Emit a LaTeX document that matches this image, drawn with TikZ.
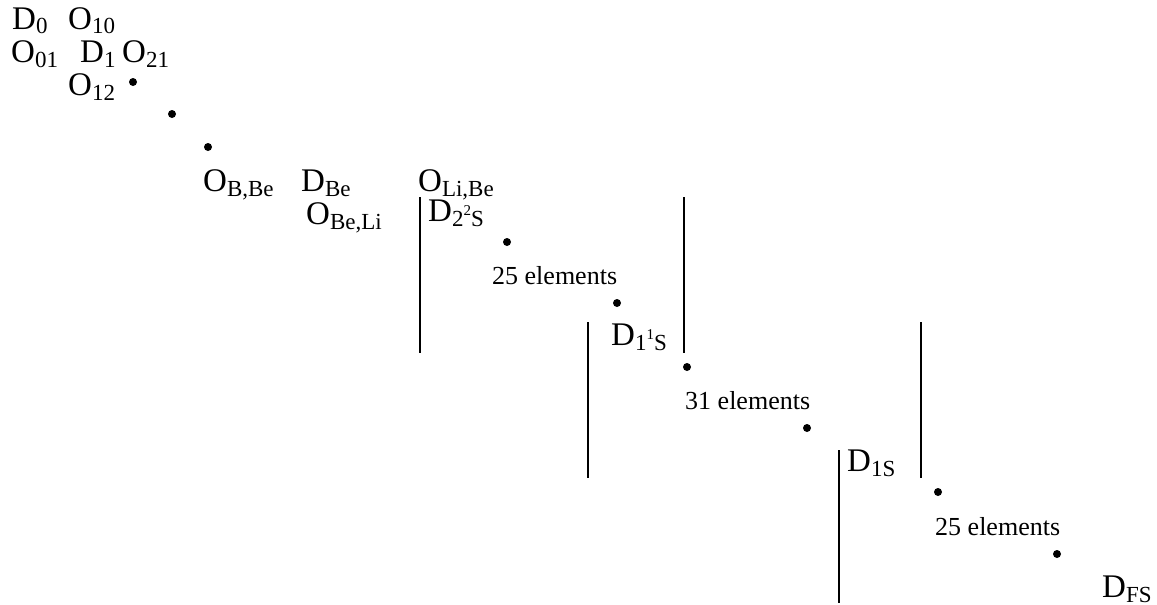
\documentclass[tikz,border=0pt]{standalone}
\usepackage{fontspec}
\setmainfont{Liberation Serif}
\newcommand\lo[1]{\raisebox{-5pt}{\fontsize{23}{23}\selectfont #1}}
\newcommand\hiup[1]{\raisebox{11pt}{\fontsize{15}{15}\selectfont #1}}
\tikzset{
  lbl/.style={inner sep=0pt, anchor=base west, font=\fontsize{33}{33}\selectfont},
  cnt/.style={inner sep=0pt, anchor=base west, font=\fontsize{26}{26}\selectfont},
  bar/.style={line width=2.4pt},
  pt/.style={circle, fill=black, inner sep=0pt, minimum size=8pt}
}
\begin{document}
\begin{tikzpicture}[x=1pt, y=-1pt]
\useasboundingbox (0,0) rectangle (1157,605);
% top-left block
\node[lbl] (d0) at (12,29) {D\lo{0}};
\node[lbl] (o10) at (68,29) {O\lo{10}};
\node[lbl] (o01) at (11,62) {O\lo{01}};
\node[lbl] (d1) at (80,62) {D\lo{1}};
\node[lbl] (o21) at (122,62) {O\lo{21}};
\node[lbl] (o12) at (68,95) {O\lo{12}};
\node[pt] (p1) at (133,82) {};
\node[pt] (p2) at (172,114) {};
\node[pt] (p3) at (208,147) {};
% middle row
\node[lbl] (obbe) at (203,191) {O\lo{B,Be}};
\node[lbl] (dbe) at (301,191) {D\lo{Be}};
\node[lbl] (olibe) at (418,191) {O\lo{Li,Be}};
\node[lbl] (obeli) at (306,224) {O\lo{Be,Li}};
% block 1
\node[lbl] (d22s) at (428,221) {D\lo{2\hiup{2}S}};
\node[pt] (p4) at (507,242) {};
\node[cnt] (e25a) at (492,284) {25 elements};
\node[pt] (p5) at (617,303) {};
% block 2
\node[lbl] (d11s) at (611,345) {D\lo{1\hiup{1}S}};
\node[pt] (p6) at (687,367) {};
\node[cnt] (e31) at (685,409) {31 elements};
\node[pt] (p7) at (807,428) {};
% block 3
\node[lbl] (d1s) at (847,471) {D\lo{1S}};
\node[pt] (p8) at (938,492) {};
\node[cnt] (e25b) at (935,535) {25 elements};
\node[pt] (p9) at (1057,554) {};
\node[lbl] (dfs) at (1102,597) {D\lo{FS}};
% vertical bars
\coordinate (a1) at (420,197); \coordinate (a2) at (420,353);
\coordinate (b1) at (684,197); \coordinate (b2) at (684,353);
\coordinate (c1) at (588,322); \coordinate (c2) at (588,478);
\coordinate (e1) at (921,322); \coordinate (e2) at (921,478);
\coordinate (f1) at (839,450); \coordinate (f2) at (839,603);
\draw[bar] (a1) -- (a2);
\draw[bar] (b1) -- (b2);
\draw[bar] (c1) -- (c2);
\draw[bar] (e1) -- (e2);
\draw[bar] (f1) -- (f2);
\end{tikzpicture}
\end{document}
